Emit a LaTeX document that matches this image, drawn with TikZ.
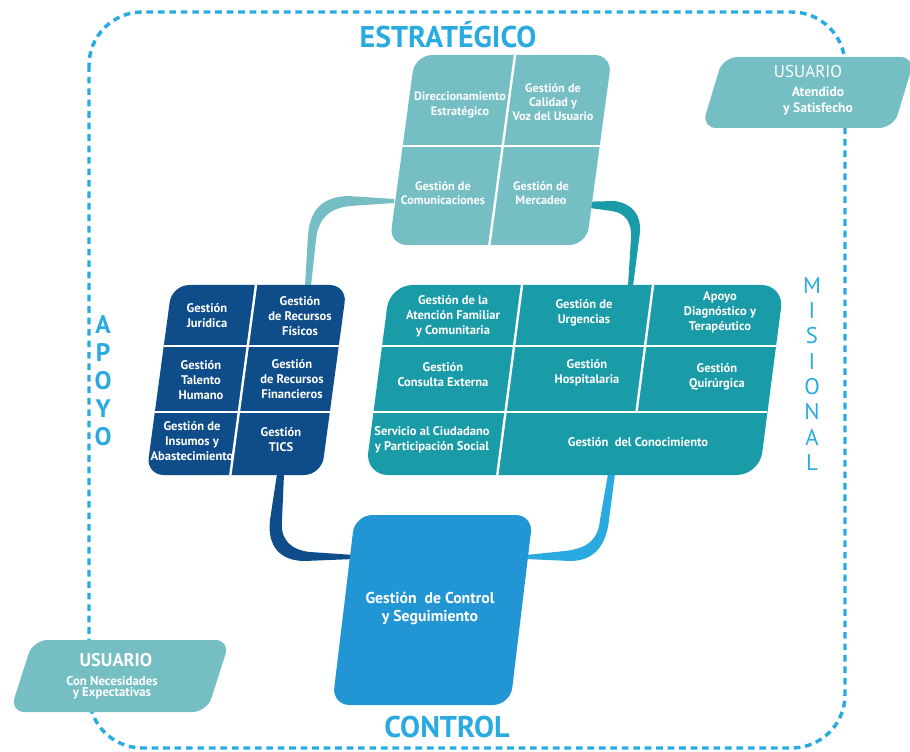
\documentclass[tikz,border=0pt]{standalone}
\usepackage{fontspec}
\setmainfont{PT Sans}
\definecolor{estratColor}{HTML}{75BFC4}
\definecolor{apoyoColor}{HTML}{0F4C8A}
\definecolor{misionColor}{HTML}{1A9BA8}
\definecolor{controlColor}{HTML}{2295D5}
\definecolor{frameColor}{HTML}{29ABE2}

\begin{document}
\begin{tikzpicture}[x=0.75pt,y=-0.75pt,
  celltext/.style={text=white,font=\bfseries\fontsize{9.2}{10.6}\selectfont,align=center,inner sep=0pt},
  apoyotext/.style={celltext,font=\bfseries\fontsize{9.4}{11.2}\selectfont},
  misiontext/.style={celltext,font=\bfseries\fontsize{9.4}{11.2}\selectfont},
  divider/.style={draw=white,line width=1.8pt},
  sidelabel/.style={text=frameColor,font=\bfseries\fontsize{22.5}{24}\selectfont,inner sep=0pt},
  vertlabel/.style={text=frameColor,align=center,inner sep=0pt}]
\useasboundingbox (0,0) rectangle (910,752);
\draw[frameColor,line width=2.6pt,dash pattern=on 5pt off 3.6pt,rounded corners=40pt] (89,12) rectangle (845,748);
\fill[estratColor] (305,286) -- (308,235) .. controls (310,210) and (322,197) .. (348,196) -- (394,199) -- (394,203) -- (350,206) .. controls (330,208) and (318,218) .. (316,240) -- (311,286) -- cycle;
\fill[misionColor] (575,202) -- (615,201) .. controls (632,204) and (641,214) .. (640,232) -- (633,286) -- (628,286) -- (631,238) .. controls (632,222) and (625,213) .. (612,211) -- (575,206) -- cycle;
\fill[apoyoColor] (277,474) -- (270,520) .. controls (267,546) and (280,561) .. (305,561) -- (354,559) -- (354,555) -- (310,552) .. controls (291,550) and (280,540) .. (282,520) -- (284,474) -- cycle;
\fill[frameColor] (615,474) -- (609,520) .. controls (606,548) and (592,561) .. (570,561) -- (526,559) -- (526,555) -- (565,551) .. controls (590,548) and (598,538) .. (600,520) -- (608,474) -- cycle;
\begin{scope}[shift={(415,55)},xslant=0.135]
\fill[estratColor,rounded corners=13pt] (0,0) rectangle (197,190);
\draw[divider] (100,0) -- (100,190);
\draw[divider] (0,91) -- (197,91);
\end{scope}
\begin{scope}[shift={(172,285)},xslant=0.135]
\fill[apoyoColor,rounded corners=13pt] (0,0) rectangle (175,190);
\draw[divider] (84,0) -- (84,190);
\draw[divider] (0,61) -- (175,61);
\draw[divider] (0,127) -- (175,127);
\end{scope}
\begin{scope}[shift={(390,285)},xslant=0.13]
\fill[misionColor,rounded corners=17pt] (0,0) rectangle (394,190);
\draw[divider] (132,0) -- (132,190);
\draw[divider] (263,0) -- (263,127);
\draw[divider] (0,61) -- (394,61);
\draw[divider] (0,127) -- (394,127);
\end{scope}
\begin{scope}[shift={(355,515)},xslant=0.12]
\fill[controlColor,rounded corners=13pt] (0,0) rectangle (178,190);
\end{scope}
\begin{scope}[shift={(723,57)},xslant=0.3]
\fill[estratColor,rounded corners=11pt] (0,0) rectangle (192,71);
\end{scope}
\begin{scope}[shift={(33,640)},xslant=0.32]
\fill[estratColor,rounded corners=11pt] (0,0) rectangle (197,72);
\end{scope}
\node[celltext] (direccion) at (460,105) {Direccionamiento\\Estratégico};
\node[celltext] (calidad) at (553,102) {Gestión de\\Calidad y\\Voz del Usuario};
\node[celltext] (comunic) at (443,193) {Gestión de\\Comunicaciones};
\node[celltext] (mercadeo) at (541,193) {Gestión de\\Mercadeo};
\node[apoyotext] (juridica) at (207,316) {Gestión\\Jurídica};
\node[apoyotext] (fisicos) at (300,316) {Gestión\\de Recursos\\Físicos};
\node[apoyotext] (talento) at (201,380) {Gestión\\Talento\\Humano};
\node[apoyotext] (financ) at (292,379) {Gestión\\de Recursos\\Financieros};
\node[apoyotext] (insumos) at (192,441) {Gestión de\\Insumos y\\Abastecimiento};
\node[apoyotext] (tics) at (281,440) {Gestión\\TICS};
\node[misiontext] (familiar) at (453,316) {Gestión de la\\Atención Familiar\\y Comunitaria};
\node[misiontext] (urgencias) at (584,313) {Gestión de\\Urgencias};
\node[misiontext] (diagnost) at (720,312) {Apoyo\\Diagnóstico y\\Terapéutico};
\node[misiontext] (consulta) at (443,375) {Gestión\\Consulta Externa};
\node[misiontext] (hospital) at (587,373) {Gestión\\Hospitalaria};
\node[misiontext] (quirurg) at (717,377) {Gestión\\Quirúrgica};
\node[misiontext] (ciudadano) at (432,440) {Servicio al Ciudadano\\y Participación Social};
\node[misiontext] (conocim) at (638,442) {Gestión~ del Conocimiento};
\node[celltext,font=\bfseries\fontsize{11.8}{13.5}\selectfont] (control) at (430,609) {Gestión~ de Control\\y Seguimiento};
\node[text=white,inner sep=0pt,font=\fontsize{12.8}{14}\selectfont] (usuarioA) at (808,72) {USUARIO};
\node[celltext,font=\bfseries\fontsize{10.2}{12.5}\selectfont] (atendido) at (818,101) {Atendido\\y Satisfecho};
\node[text=white,inner sep=0pt,font=\bfseries\fontsize{13.8}{14}\selectfont] (usuarioB) at (116,660) {USUARIO};
\node[celltext,font=\bfseries\fontsize{9.6}{8.6}\selectfont] (necesid) at (112,688) {Con Necesidades\\y Expectativas};
\node[sidelabel] (estrat) at (448,35) {ESTRATÉGICO};
\node[sidelabel] (controlLbl) at (447,727) {CONTROL};
\node[vertlabel,font=\bfseries\fontsize{19}{21}\selectfont] (apoyoLbl) at (103,381) {A\\P\\O\\Y\\O};
\node[vertlabel,font=\fontsize{17}{19}\selectfont] (misionLbl) at (812,374) {M\\I\\S\\I\\O\\N\\A\\L};
\end{tikzpicture}
\end{document}
